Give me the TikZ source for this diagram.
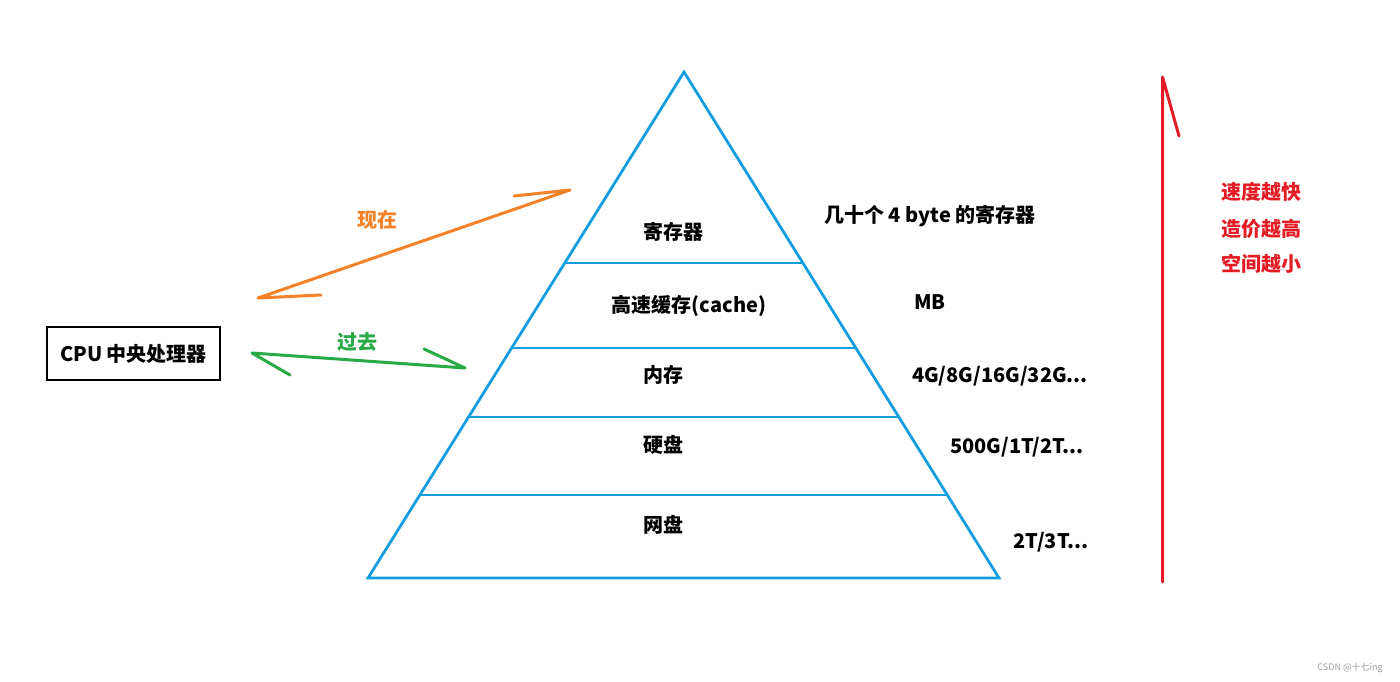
\documentclass[tikz,border=0pt]{standalone}
\usepackage{fontspec}
\usetikzlibrary{calc}
\setmainfont{Noto Sans CJK SC}
\definecolor{triblue}{RGB}{20,158,224}
\definecolor{arrorange}{RGB}{245,130,40}
\definecolor{arrgreen}{RGB}{40,170,70}
\definecolor{arrred}{RGB}{228,28,38}
\begin{document}
\begin{tikzpicture}[x=1pt,y=-1pt,
  lbl/.style={font=\fontsize{20}{24}\selectfont\bfseries, inner sep=0pt, text=black},
  redlbl/.style={lbl, text=arrred},
  tri/.style={draw=triblue, line width=2.8pt, line join=miter},
  hand/.style={line width=3pt, line cap=round, line join=round}]
\useasboundingbox (0,0) rectangle (1400,681);
% pyramid
\coordinate (apex) at (684,72);
\coordinate (bl) at (368,578);
\coordinate (br) at (999,578);
\draw[tri] (apex) -- (bl) -- (br) -- cycle;
\foreach \yy/\nm in {263/a,348/b,417/c,495/d}{
  \coordinate (L\nm) at ($(apex)!{(\yy-72)/506}!(bl)$);
  \coordinate (R\nm) at ($(apex)!{(\yy-72)/506}!(br)$);
  \draw[tri] (L\nm) -- (R\nm);
}
% layer labels
\node[lbl] (reg) at (673,232) {寄存器};
\node[lbl] (cache) at (689,306) {高速缓存(cache)};
\node[lbl] (mem) at (663,375) {内存};
\node[lbl] (disk) at (663,445) {硬盘};
\node[lbl] (net) at (663,525) {网盘};
% sizes
\node[lbl] (s1) at (930,216) {几十个\ 4\ byte\ 的寄存器};
\node[lbl] (s2) at (930,302) {MB};
\node[lbl] (s3) at (1000,376) {4G/8G/16G/32G...};
\node[lbl] (s4) at (1017,447) {500G/1T/2T...};
\node[lbl] (s5) at (1051,542) {2T/3T...};
% CPU
\node[lbl, draw=black, line width=2.5pt, minimum width=173pt, minimum height=53pt] (cpu) at (133.5,353.5) {CPU\ 中央处理器};
% orange arrow (now)
\coordinate (oA) at (258,298);
\coordinate (oAb) at (321,295);
\coordinate (oB) at (570,190);
\coordinate (oBb) at (514,196);
\draw[hand, draw=arrorange] (oAb) -- (oA) -- (oB) -- (oBb);
\node[lbl, text=arrorange] (now) at (377,220) {现在};
% green arrow (past)
\coordinate (gA) at (252,353);
\coordinate (gAb) at (290,375);
\coordinate (gB) at (465,368);
\coordinate (gBb) at (424,349);
\draw[hand, draw=arrgreen] (gAb) -- (gA) -- (gB) -- (gBb);
\node[lbl, text=arrgreen] (past) at (357,342) {过去};
% red arrow
\coordinate (rA) at (1162.5,582);
\coordinate (rB) at (1162.5,77);
\coordinate (rBb) at (1179,136);
\draw[hand, draw=arrred] (rA) -- (rB) -- (rBb);
\node[redlbl] (r1) at (1261,192) {速度越快};
\node[redlbl] (r2) at (1261,229) {造价越高};
\node[redlbl] (r3) at (1261,264) {空间越小};
% watermark
\node[font=\fontsize{9}{11}\selectfont, text=black!40, inner sep=0pt] (wm) at (1350,668) {CSDN @十七ing};
\end{tikzpicture}
\end{document}
